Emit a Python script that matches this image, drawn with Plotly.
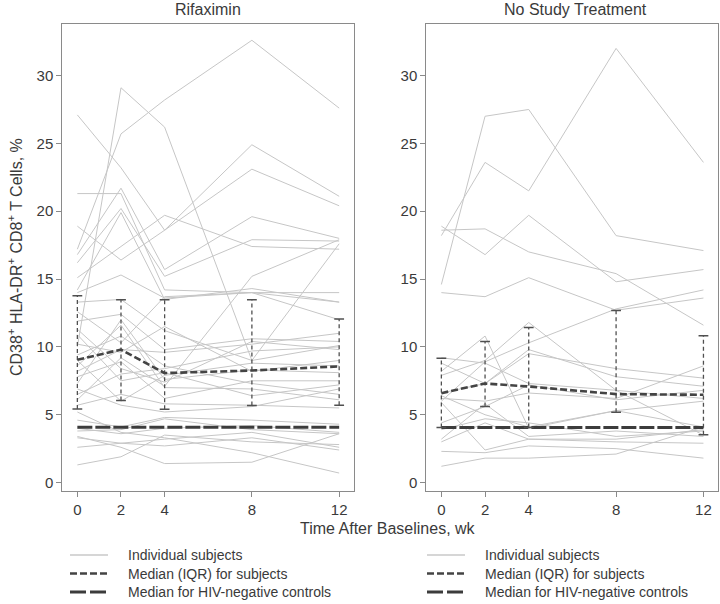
import plotly.graph_objects as go

weeks = [0, 2, 4, 8, 12]
tick_weeks = [0, 2, 4, 8, 12]
y_ticks = [0, 5, 10, 15, 20, 25, 30]
panel_titles = ["Rifaximin", "No Study Treatment"]

rifaximin_subjects = [
    [17.2, 25.7, 28.2, 32.6, 27.6],
    [10.0, 29.1, 26.2, 9.0, 17.6],
    [27.1, 23.2, 18.6, 24.9, 21.1],
    [18.9, 16.4, 18.6, 23.1, 20.4],
    [21.3, 21.3, 14.2, 14.0, 14.0],
    [16.8, 21.7, 15.7, 19.6, 18.0],
    [16.2, 20.2, 15.2, 17.9, 17.8],
    [15.1, 17.4, 19.7, 17.4, 17.2],
    [14.2, 19.9, 13.5, 14.3, 13.3],
    [14.0, 15.3, 13.6, 14.0, 12.0],
    [13.3, 13.5, 11.2, 9.0, 10.1],
    [12.6, 10.3, 13.7, 14.0, 13.3],
    [11.9, 12.4, 9.8, 10.6, 10.4],
    [11.3, 8.4, 7.4, 10.4, 9.8],
    [10.9, 7.5, 8.1, 6.4, 7.2],
    [10.2, 9.6, 11.5, 8.2, 9.0],
    [9.4, 10.8, 8.6, 7.3, 6.5],
    [9.0, 6.0, 7.9, 8.8, 8.6],
    [8.6, 11.6, 7.0, 6.9, 6.1],
    [8.2, 9.8, 9.6, 10.2, 11.0],
    [7.8, 8.9, 6.2, 7.5, 7.5],
    [7.3, 12.0, 7.6, 8.3, 8.1],
    [6.9, 5.7, 5.2, 5.6, 6.9],
    [6.5, 8.0, 8.4, 9.7, 10.0],
    [6.1, 9.2, 7.1, 15.2, 17.9],
    [5.7, 6.5, 5.8, 5.7, 5.5],
    [5.2, 3.7, 3.3, 2.2, 0.7],
    [4.6, 4.1, 4.8, 4.6, 4.3],
    [4.0, 3.6, 4.0, 4.2, 3.7],
    [3.8, 3.9, 4.7, 3.9, 3.6],
    [3.4, 2.6, 1.4, 1.5, 3.6],
    [3.3, 2.9, 3.2, 3.7, 2.6],
    [2.6, 2.9, 2.7, 3.3, 2.4],
    [1.3, 1.9, 3.5, 3.0, 2.8],
]

no_treatment_subjects = [
    [14.6, 27.0, 27.5, 18.2, 17.1],
    [18.2, 23.6, 21.5, 32.0, 23.6],
    [18.9, 16.8, 19.7, 14.8, 15.7],
    [18.6, 18.7, 17.0, 15.4, 11.6],
    [14.0, 13.7, 15.1, 12.7, 13.6],
    [6.0, 8.9, 10.3, 12.8, 14.2],
    [9.2, 8.8, 7.3, 6.8, 6.2],
    [8.8, 7.3, 9.8, 7.8, 7.1],
    [8.2, 10.8, 4.0, 5.3, 4.1],
    [7.9, 9.0, 11.8, 6.8, 3.5],
    [6.6, 7.3, 9.5, 8.4, 7.7],
    [6.2, 6.0, 6.6, 6.2, 8.6],
    [4.4, 5.6, 7.2, 6.1, 6.8],
    [3.9, 4.7, 4.4, 3.4, 3.8],
    [3.2, 5.8, 3.4, 3.8, 3.4],
    [3.0, 4.4, 3.2, 3.0, 2.9],
    [2.3, 2.2, 2.7, 2.5, 1.8],
    [1.2, 1.8, 1.8, 2.1, 4.1],
    [5.9, 2.4, 3.2, 3.2, 3.9],
    [6.4, 5.0, 4.1, 5.3, 6.0],
]

rifaximin_median = [9.05, 9.8, 8.07, 8.26, 8.56]
rifaximin_q1 = [5.43, 6.05, 5.41, 5.68, 5.7]
rifaximin_q3 = [13.77, 13.47, 13.47, 13.47, 12.05]
no_treatment_median = [6.59, 7.3, 7.08, 6.52, 6.47]
no_treatment_q1 = [4.06, 5.6, 4.06, 5.19, 3.52]
no_treatment_q3 = [9.17, 10.4, 11.43, 12.69, 10.82]
control_median_rif = [4.08, 4.08, 4.08, 4.08, 4.08]
control_median_no = [4.06, 4.06, 4.06, 4.06, 4.06]

legend_labels = ["Individual subjects", "Median (IQR) for subjects",
                 "Median for HIV-negative controls"]

FONT = "Liberation Sans, Arial, sans-serif"
TXT = "#3a3a3a"
W, H = 720, 604

fig = go.Figure()

panels = [
    ("x", "y", rifaximin_subjects, rifaximin_median, rifaximin_q1, rifaximin_q3, control_median_rif),
    ("x2", "y2", no_treatment_subjects, no_treatment_median, no_treatment_q1, no_treatment_q3, control_median_no),
]

for xa, ya, subjects, med, q1, q3, ctrl in panels:
    for s in subjects:
        fig.add_trace(go.Scatter(x=weeks, y=s, xaxis=xa, yaxis=ya, mode="lines",
                                 line=dict(color="#c6c6c6", width=1), showlegend=False,
                                 hoverinfo="skip"))
    fig.add_trace(go.Scatter(x=weeks, y=ctrl, xaxis=xa, yaxis=ya, mode="lines",
                             line=dict(color="#3c3c3c", width=3, dash="15px,3px"),
                             showlegend=False))
    vx, vy = [], []
    for w, lo, hi in zip(weeks, q1, q3):
        vx += [w, w, None]
        vy += [lo, hi, None]
    fig.add_trace(go.Scatter(x=vx, y=vy, xaxis=xa, yaxis=ya, mode="lines",
                             line=dict(color="#505050", width=1.3, dash="4px,3px"),
                             showlegend=False))
    fig.add_trace(go.Scatter(x=weeks + weeks, y=q1 + q3, xaxis=xa, yaxis=ya, mode="markers",
                             marker=dict(symbol="line-ew", size=7,
                                         line=dict(color="#505050", width=1.5)),
                             showlegend=False))
    fig.add_trace(go.Scatter(x=weeks, y=med, xaxis=xa, yaxis=ya, mode="lines",
                             line=dict(color="#444444", width=2.6, dash="7px,3px"),
                             showlegend=False))

def px_x(p):
    return p / W

def px_y(p):
    return 1 - p / H

x_dom1 = [px_x(62.3), px_x(354)]
x_dom2 = [px_x(426.3), px_x(718.3)]
y_dom = [px_y(490.7), px_y(24)]

axis_common = dict(showline=True, mirror=True, linecolor="#8a8a8a", linewidth=1,
                   showgrid=False, zeroline=False, ticks="outside", ticklen=5,
                   tickcolor="#8a8a8a", tickwidth=1,
                   tickfont=dict(family=FONT, size=15, color=TXT))

fig.update_layout(
    width=W, height=H,
    margin=dict(l=0, r=0, t=0, b=0),
    plot_bgcolor="white", paper_bgcolor="white",
    showlegend=False,
    xaxis=dict(domain=x_dom1, range=[-0.69, 12.68], tickvals=tick_weeks, anchor="y", **axis_common),
    xaxis2=dict(domain=x_dom2, range=[-0.69, 12.68], tickvals=tick_weeks, anchor="y2", **axis_common),
    yaxis=dict(domain=y_dom, range=[-0.6, 33.8], tickvals=y_ticks, anchor="x", **axis_common),
    yaxis2=dict(domain=y_dom, range=[-0.6, 33.8], tickvals=y_ticks, anchor="x2", **axis_common),
)

def ann(text, x, y, size, xanchor="center", angle=0):
    return dict(text=text, x=px_x(x), y=px_y(y), xref="paper", yref="paper",
                xanchor=xanchor, yanchor="middle", textangle=angle, showarrow=False,
                font=dict(family=FONT, size=size, color=TXT))

annotations = [
    ann(panel_titles[0], 208, 9, 16),
    ann(panel_titles[1], 575, 9, 16),
    ann("CD38<sup>+</sup> HLA-DR<sup>+</sup> CD8<sup>+</sup> T Cells, %", 15, 257, 16, angle=-90),
    ann("Time After Baselines, wk", 388, 528, 16),
]

shapes = []
rows_y = [555, 573.5, 592]
styles = [dict(color="#c8c8c8", width=1.3), dict(color="#444444", width=2.6, dash="7px,3px"),
          dict(color="#3c3c3c", width=3, dash="16px,4px")]
for (lx0, lx1, tx) in [(70, 108, 126), (427, 465, 483)]:
    for ry, st, lab in zip(rows_y, styles, legend_labels):
        shapes.append(dict(type="line", xref="paper", yref="paper",
                           x0=px_x(lx0), x1=px_x(lx1), y0=px_y(ry), y1=px_y(ry), line=st))
        annotations.append(ann(lab, tx, ry, 14, xanchor="left"))

fig.update_layout(annotations=annotations, shapes=shapes)

fig.write_html("out.html", config={"displayModeBar": False},
               post_script="document.body.style.margin='0px';document.body.style.overflow='hidden';")
